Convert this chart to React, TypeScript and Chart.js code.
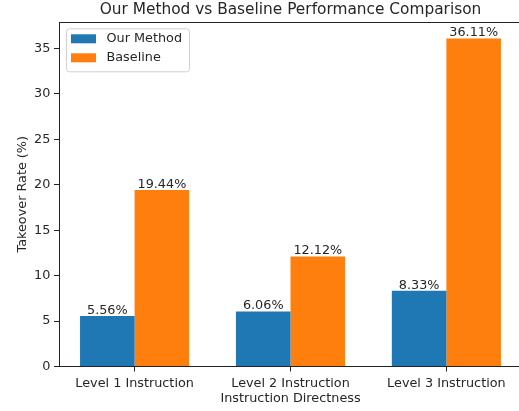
import React, { useEffect, useRef } from "react";
import { Chart, registerables } from "chart.js";

Chart.register(...registerables);

const CATEGORIES = ["Level 1 Instruction", "Level 2 Instruction", "Level 3 Instruction"];
const OUR_METHOD = [5.56, 6.06, 8.33];
const BASELINE = [19.44, 12.12, 36.11];
const SERIES_LABELS = ["Our Method", "Baseline"];
const COLORS = ["#1f77b4", "#ff7f0e"];
const Y_TICKS = [0, 5, 10, 15, 20, 25, 30, 35];
const Y_MAX = 37.92;
const X_MIN = -0.485;
const X_MAX = 2.485;
const TITLE = "Our Method vs Baseline Performance Comparison";
const X_TITLE = "Instruction Directness";
const Y_TITLE = "Takeover Rate (%)";

const FONT_FAMILY = "'DejaVu Sans', sans-serif";
const TEXT = "#262626";
const FS = 12.8;

const decorPlugin = {
  id: "decor",
  afterDatasetsDraw(chart: any) {
    const { ctx } = chart;
    ctx.save();
    ctx.font = `${FS}px ${FONT_FAMILY}`;
    ctx.fillStyle = TEXT;
    ctx.textAlign = "center";
    ctx.textBaseline = "alphabetic";
    chart.data.datasets.forEach((ds: any, di: number) => {
      const meta = chart.getDatasetMeta(di);
      meta.data.forEach((bar: any, i: number) => {
        const v = ds.data[i].y;
        ctx.fillText(`${Number(v).toFixed(2)}%`, bar.x, bar.y - 2);
      });
    });
    ctx.restore();
  },
  afterDraw(chart: any) {
    const { ctx, chartArea } = chart;
    ctx.save();
    // top spine
    ctx.strokeStyle = "#222";
    ctx.lineWidth = 1;
    ctx.beginPath();
    ctx.moveTo(chartArea.left, chartArea.top + 0.5);
    ctx.lineTo(chartArea.right, chartArea.top + 0.5);
    ctx.stroke();

    // title
    ctx.font = `${FS * 1.2}px ${FONT_FAMILY}`;
    ctx.fillStyle = TEXT;
    ctx.textAlign = "center";
    ctx.textBaseline = "alphabetic";
    const cx = (chartArea.left + chartArea.right) / 2;
    ctx.fillText(TITLE, cx, chartArea.top - 8);

    // legend
    const lx = chartArea.left + 7;
    const ly = chartArea.top + 6.3;
    const lw = 123;
    const lh = 43;
    ctx.beginPath();
    if ((ctx as any).roundRect) (ctx as any).roundRect(lx + 0.5, ly + 0.5, lw, lh, 3);
    else ctx.rect(lx + 0.5, ly + 0.5, lw, lh);
    ctx.fillStyle = "rgba(255,255,255,0.8)";
    ctx.fill();
    ctx.strokeStyle = "#d0d0d0";
    ctx.stroke();
    ctx.font = `${FS}px ${FONT_FAMILY}`;
    ctx.textAlign = "left";
    ctx.textBaseline = "middle";
    chart.data.datasets.forEach((ds: any, di: number) => {
      const rowY = ly + 10.5 + di * 19;
      ctx.fillStyle = ds.backgroundColor;
      ctx.fillRect(lx + 5, rowY - 4.5, 25, 9);
      ctx.fillStyle = TEXT;
      ctx.fillText(ds.label, lx + 40.5, rowY);
    });
    ctx.restore();
  },
};

export default function App() {
  const canvasRef = useRef<HTMLCanvasElement | null>(null);

  useEffect(() => {
    if (!canvasRef.current) return;
    const chart = new Chart(canvasRef.current, {
      type: "bar",
      data: {
        datasets: [
          {
            label: SERIES_LABELS[0],
            data: OUR_METHOD.map((v, i) => ({ x: i, y: v })),
            backgroundColor: COLORS[0],
          },
          {
            label: SERIES_LABELS[1],
            data: BASELINE.map((v, i) => ({ x: i, y: v })),
            backgroundColor: COLORS[1],
          },
        ],
      },
      plugins: [decorPlugin],
      options: {
        animation: false,
        responsive: true,
        maintainAspectRatio: false,
        devicePixelRatio: 1,
        layout: { padding: { top: 22, left: 0, right: 0, bottom: 0 } },
        datasets: {
          bar: { categoryPercentage: 0.7, barPercentage: 1.0, borderWidth: 0 },
        },
        plugins: {
          legend: { display: false },
          title: { display: false },
          tooltip: { enabled: false },
        },
        scales: {
          x: {
            type: "linear",
            min: X_MIN,
            max: X_MAX,
            offset: false,
            afterBuildTicks(scale: any) {
              scale.ticks = CATEGORIES.map((_, i) => ({ value: i }));
            },
            grid: {
              offset: false,
              drawOnChartArea: false,
              drawTicks: true,
              tickLength: 5,
              color: "#222",
            },
            border: { display: true, color: "#222", width: 1 },
            ticks: {
              color: TEXT,
              font: { family: FONT_FAMILY, size: FS },
              padding: 4,
              maxRotation: 0,
              autoSkip: false,
              callback: (v: any) => CATEGORIES[Math.round(Number(v))] ?? "",
            },
            title: {
              display: true,
              text: X_TITLE,
              color: TEXT,
              font: { family: FONT_FAMILY, size: FS },
              padding: { top: 0, bottom: 4.3 },
            },
            afterFit(scale: any) {
              scale.height = 44.5;
            },
          },
          y: {
            type: "linear",
            min: 0,
            max: Y_MAX,
            afterBuildTicks(scale: any) {
              scale.ticks = Y_TICKS.map((v) => ({ value: v }));
            },
            grid: {
              drawOnChartArea: false,
              drawTicks: true,
              tickLength: 5,
              color: "#222",
            },
            border: { display: true, color: "#222", width: 1 },
            ticks: {
              color: TEXT,
              font: { family: FONT_FAMILY, size: FS },
              padding: 3.7,
            },
            title: {
              display: true,
              text: Y_TITLE,
              color: TEXT,
              font: { family: FONT_FAMILY, size: FS },
              padding: { top: 15, bottom: 0 },
            },
            afterFit(scale: any) {
              scale.width = 59;
            },
          },
        },
      },
    } as any);
    return () => chart.destroy();
  }, []);

  return (
    <div
      style={{
        position: "fixed",
        left: 0,
        top: 0,
        width: 519,
        height: 411,
        overflow: "hidden",
        background: "#fff",
      }}
    >
      <div style={{ position: "relative", width: 522, height: 411 }}>
        <canvas ref={canvasRef} />
      </div>
    </div>
  );
}
